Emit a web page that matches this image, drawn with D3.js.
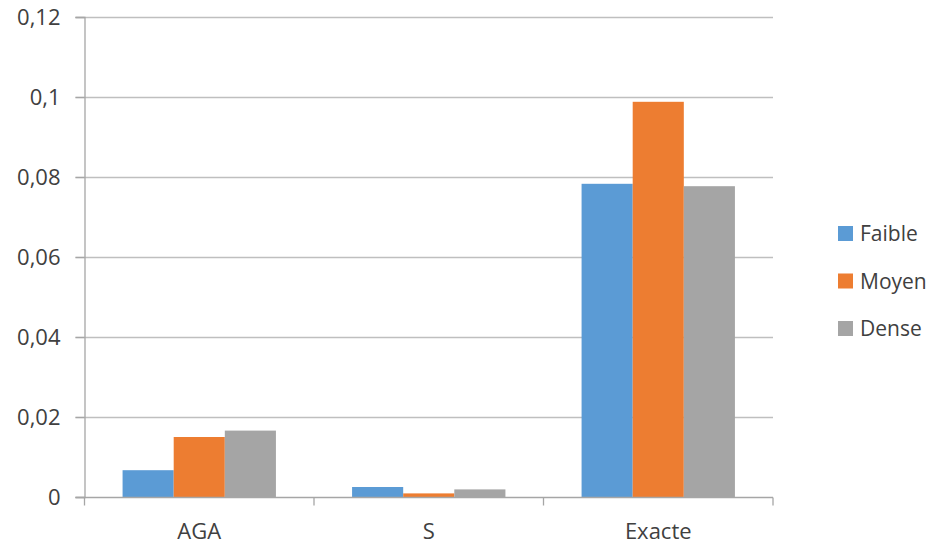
<!DOCTYPE html>
<html>
<head>
<meta charset="utf-8">
<script src="https://cdn.jsdelivr.net/npm/d3@7"></script>
<style>
  html, body { margin: 0; padding: 0; background: #fff; }
  svg { display: block; }
  text { font-family: "Open Sans", sans-serif; fill: #404040; }
</style>
</head>
<body>
<svg id="chart" width="939" height="544"></svg>
<script>
// Data
const categories = ["AGA", "S", "Exacte"];
const seriesNames = ["Faible", "Moyen", "Dense"];
const faible = [0.0067, 0.0025, 0.0783];
const moyen = [0.0150, 0.0009, 0.0988];
const dense = [0.0166, 0.0019, 0.0777];
const yTicks = [0, 0.02, 0.04, 0.06, 0.08, 0.1, 0.12];
const tickLabels = ["0", "0,02", "0,04", "0,06", "0,08", "0,1", "0,12"];
const colors = ["#5B9BD5", "#ED7D31", "#A5A5A5"];

const values = [faible, moyen, dense];

const svg = d3.select("#chart");
const margin = { left: 84.5, right: 166, top: 17, bottom: 47 };
const W = 939, H = 544;
const x0 = margin.left, x1 = W - margin.right;
const yTop = margin.top, yBot = H - margin.bottom;

const x = d3.scaleBand().domain(categories).range([x0, x1]).paddingInner(0).paddingOuter(0);
const xs = d3.scaleBand().domain(seriesNames).range([0, x.bandwidth()]).paddingInner(0).paddingOuter(0.745);
const y = d3.scaleLinear().domain([0, 0.12]).range([yBot, yTop]);

// Gridlines
svg.append("g")
  .selectAll("line")
  .data(yTicks.slice(1))
  .join("line")
  .attr("x1", x0 - 9).attr("x2", x1)
  .attr("y1", d => Math.round(y(d)) + 0.5).attr("y2", d => Math.round(y(d)) + 0.5)
  .attr("stroke", "#BFBFBF").attr("stroke-width", 1.3);

// Bars
const groups = svg.append("g").selectAll("g")
  .data(categories)
  .join("g")
  .attr("transform", d => `translate(${x(d)},0)`);

groups.selectAll("rect")
  .data((c, i) => seriesNames.map((s, j) => ({ s, v: values[j][i], j })))
  .join("rect")
  .attr("x", d => xs(d.s))
  .attr("width", xs.bandwidth())
  .attr("y", d => y(d.v))
  .attr("height", d => y(0) - y(d.v))
  .attr("fill", d => colors[d.j]);

// Y axis
const yAxis = d3.axisLeft(y).tickValues(yTicks).tickSize(9)
  .tickFormat((d, i) => tickLabels[i]);
const gy = svg.append("g").attr("transform", `translate(${x0},0)`).call(yAxis);
gy.select(".domain").attr("stroke", "#A6A6A6").attr("stroke-width", 1.3);
gy.selectAll(".tick line").attr("stroke", "#A6A6A6").attr("stroke-width", 1.3);
gy.selectAll(".tick text")
  .attr("x", -24)
  .attr("font-size", 22)
  .attr("font-family", "'Open Sans', sans-serif")
  .attr("fill", "#404040");

// X axis with tick marks at category boundaries
const gx = svg.append("g").attr("transform", `translate(0,${Math.round(yBot) + 0.5})`);
gx.append("line").attr("x1", x0 - 9).attr("x2", x1).attr("stroke", "#A6A6A6").attr("stroke-width", 1.3);
const bounds = categories.map(c => x(c)).concat([x1]);
gx.selectAll("line.b").data(bounds).join("line")
  .attr("class", "b")
  .attr("x1", d => d).attr("x2", d => d)
  .attr("y1", 0).attr("y2", 8)
  .attr("stroke", "#A6A6A6").attr("stroke-width", 1.3);
gx.selectAll("text").data(categories).join("text")
  .attr("x", d => x(d) + x.bandwidth() / 2)
  .attr("y", 41)
  .attr("text-anchor", "middle")
  .attr("font-size", 22)
  .text(d => d);

// Legend
const legend = svg.append("g").attr("transform", "translate(838,226)");
const items = legend.selectAll("g").data(seriesNames).join("g")
  .attr("transform", (d, i) => `translate(0,${i * 47.5})`);
items.append("rect").attr("width", 15).attr("height", 15).attr("fill", (d, i) => colors[i]);
items.append("text").attr("x", 22).attr("y", 15).attr("font-size", 21).text(d => d);
</script>
</body>
</html>
